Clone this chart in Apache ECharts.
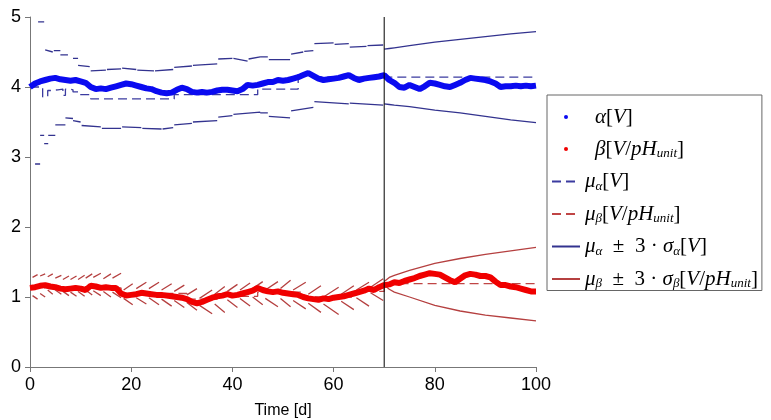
<!DOCTYPE html>
<html>
<head>
<meta charset="utf-8">
<script src="https://cdn.jsdelivr.net/npm/echarts@6/dist/echarts.min.js"></script>
<style>html,body{margin:0;padding:0;background:#fff}#c{width:771px;height:420px}</style>
</head>
<body>
<div id="c"></div>
<script>
// ---------- data ----------
const xTicks = [0, 20, 40, 60, 80, 100];
const yTicks = [0, 1, 2, 3, 4, 5];
const splitDay = 70;

const days = [0,1,2,3,4,5,6,7,8,9,10,11,12,13,14,15,16,17,18,19,20,21,22,23,24,25,26,27,28,29,30,31,32,33,34,35,36,37,38,39,40,41,42,43,44,45,46,47,48,49,50,51,52,53,54,55,56,57,58,59,60,61,62,63,64,65,66,67,68,69,70,71,72,73,74,75,76,77,78,79,80,81,82,83,84,85,86,87,88,89,90,91,92,93,94,95,96,97,98,99,100];

const alpha = [4.00,4.05,4.08,4.10,4.12,4.13,4.11,4.10,4.09,4.10,4.08,4.06,4.00,3.97,3.98,3.97,3.99,4.01,4.03,4.05,
  4.04,4.02,4.00,3.98,3.97,3.94,3.92,3.91,3.92,3.96,3.99,3.97,3.93,3.92,3.93,3.92,3.93,3.95,3.96,3.96,
  3.95,3.94,3.97,4.03,4.02,4.03,4.05,4.07,4.07,4.10,4.09,4.10,4.12,4.14,4.17,4.20,4.16,4.12,4.10,4.11,
  4.12,4.13,4.15,4.17,4.13,4.10,4.12,4.13,4.14,4.15,4.17,4.10,4.06,4.00,3.99,4.03,4.00,3.97,4.01,4.06,
  4.05,4.03,4.01,4.00,4.03,4.06,4.10,4.13,4.12,4.11,4.10,4.08,4.05,4.00,4.01,4.01,4.02,4.01,4.02,4.01,4.02];

const beta = [1.13,1.14,1.16,1.17,1.15,1.14,1.12,1.11,1.12,1.13,1.12,1.10,1.16,1.15,1.13,1.14,1.13,1.13,1.05,1.02,
  1.03,1.04,1.06,1.05,1.04,1.03,1.03,1.02,1.01,1.00,0.99,0.97,0.93,0.91,0.93,0.96,0.99,1.01,1.02,1.04,
  1.02,1.03,1.05,1.07,1.09,1.13,1.10,1.08,1.07,1.08,1.06,1.05,1.04,1.03,1.00,0.98,0.97,0.96,0.98,0.97,
  0.99,1.00,1.01,1.03,1.05,1.07,1.09,1.12,1.10,1.14,1.17,1.18,1.21,1.20,1.23,1.25,1.27,1.30,1.32,1.34,
  1.33,1.32,1.28,1.24,1.21,1.26,1.31,1.33,1.32,1.30,1.30,1.28,1.22,1.17,1.17,1.15,1.14,1.12,1.10,1.08,1.08];

// running mean estimates (step values)
const muAlphaX = [0, 2.5, 3.5, 4.2, 5.5, 6.5, 7.0, 8.0, 8.5, 9.5, 12, 28.5, 45, 53, 56, 70, 100];
const muAlphaY = [4.00,3.86,3.95,3.96,3.97,3.88,3.97,3.96,3.93,3.89,3.83,3.89,3.97,4.19,4.14,4.14,4.14];
const muBetaX = [0, 18, 31, 37, 45, 54, 64, 70, 100];
const muBetaY = [1.13,1.05,0.97,1.01,1.07,1.00,1.08,1.19,1.19];

// alpha +/- 3 sigma before the split: [x0, x1, y0, y1]
const alphaUpperSegs = [
  [1.6,2.8,4.93,4.93],[3.0,4.5,4.53,4.50],[4.7,6.0,4.52,4.52],[6.0,7.5,4.46,4.46],[8.5,9.5,4.41,4.41],
  [9.5,11.8,4.31,4.29],[12,15,4.23,4.24],[15.2,18,4.25,4.26],[18.2,21,4.27,4.25],[21.2,24.5,4.24,4.23],
  [24.7,28.3,4.23,4.25],[28.5,32,4.28,4.30],[32.2,37,4.31,4.33],[37.2,40,4.40,4.41],[40.2,43,4.41,4.37],
  [43.2,45.5,4.40,4.43],[45.5,47,4.43,4.43],[47.2,51.4,4.39,4.39],[51.6,54,4.47,4.50],[54.2,56,4.51,4.52],
  [56.2,60,4.62,4.63],[60.2,63,4.61,4.62],[63.2,66.5,4.57,4.58],[66.7,69.8,4.59,4.60]];
const alphaLowerSegs = [
  [1.0,2.0,2.90,2.90],[2.0,2.8,3.31,3.31],[2.8,3.6,3.19,3.19],[3.6,5.0,3.31,3.31],[5.0,7.0,3.46,3.46],
  [7.0,8.5,3.56,3.55],[8.5,10,3.52,3.50],[10.2,14,3.45,3.43],[14.2,18,3.41,3.41],[18.2,22,3.43,3.42],
  [22.2,26,3.41,3.40],[26.2,28.3,3.40,3.42],[28.5,32,3.46,3.48],[32.2,37,3.50,3.52],[37.2,40,3.57,3.59],
  [40.2,45.5,3.61,3.64],[45.5,47,3.63,3.63],[47.2,51.4,3.58,3.56],[51.6,56,3.66,3.71],[56.2,63,3.79,3.76],
  [63.2,69.8,3.77,3.74]];
// beta +/- 3 sigma before the split: [x0, x1, up0, up1, lo0, lo1]
const betaSegs = [
  [0.5,1.5,1.28,1.32,1.02,0.97],[2.0,3.0,1.30,1.33,1.05,1.00],[3.5,4.5,1.29,1.33,1.10,1.04],
  [5.0,6.2,1.27,1.31,1.10,1.04],[6.5,7.7,1.25,1.30,1.08,1.02],[8.0,9.2,1.25,1.30,1.07,1.01],
  [9.5,10.8,1.25,1.31,1.08,1.01],[11.0,12.3,1.27,1.33,1.10,1.03],[12.5,14.0,1.28,1.34,1.09,1.02],
  [14.5,16.0,1.26,1.33,1.08,1.00],[16.3,18.0,1.27,1.34,1.07,0.99],[18.5,20.3,1.10,1.19,0.98,0.89],
  [21,23,1.12,1.21,0.99,0.90],[23.5,25.5,1.12,1.21,0.99,0.89],[26,28,1.10,1.19,0.97,0.87],
  [28.5,30.5,1.08,1.17,0.95,0.85],[31,33,1.03,1.12,0.92,0.81],[33.5,36,0.98,1.10,0.88,0.76],
  [36.5,38.5,1.04,1.15,0.90,0.78],[39,41,1.08,1.18,0.96,0.85],[41.5,43.5,1.10,1.20,0.98,0.87],
  [44,46,1.12,1.22,1.00,0.89],[46.5,49,1.10,1.22,0.98,0.86],[49.5,51.5,1.12,1.24,0.98,0.86],
  [52,54.5,1.10,1.21,0.95,0.83],[55,57.5,1.04,1.16,0.91,0.78],[58,61,1.00,1.14,0.90,0.75],
  [61.5,64,1.04,1.16,0.94,0.82],[64.5,67,1.10,1.21,0.99,0.87],[67.3,69.8,1.14,1.26,1.06,0.95]];

// forecast bands after the split
const fcX = [70, 71, 72, 75, 80, 85, 90, 95, 100];
const alphaFcUpper = [4.54,4.55,4.56,4.59,4.64,4.68,4.72,4.76,4.79];
const alphaFcLower = [3.76,3.75,3.74,3.72,3.67,3.63,3.58,3.53,3.49];
const betaFcUpper  = [1.22,1.28,1.31,1.38,1.48,1.55,1.61,1.66,1.71];
const betaFcLower  = [1.17,1.11,1.07,1.00,0.88,0.80,0.74,0.70,0.66];

// ---------- build ----------
const BRK = '-';
function zip(xs, ys){ return xs.map((x,i)=>[x, ys[i]]); }
function segData(list, a, b){
  const out = [];
  list.forEach(s => { out.push([s[0], s[a]], [s[1], s[b]], [s[1], BRK]); });
  return out;
}
const bandA = [].concat(
  segData(alphaUpperSegs,2,3), zip(fcX, alphaFcUpper), [[100, BRK]],
  segData(alphaLowerSegs,2,3), zip(fcX, alphaFcLower));
const bandB = [].concat(
  segData(betaSegs,2,3), zip(fcX, betaFcUpper), [[100, BRK]],
  segData(betaSegs,4,5), zip(fcX, betaFcLower));

const names = {
  alpha: '{i|α}[{i|V}]',
  beta: '{i|β}[{i|V}/{i|pH}{s|unit}]',
  muA: '{i|μ}{s|α}[{i|V}]',
  muB: '{i|μ}{s|β}[{i|V}/{i|pH}{s|unit}]',
  bandA: '{i|μ}{s|α}{r|  ±  3 · }{i|σ}{s|α}[{i|V}]',
  bandB: '{i|μ}{s|β}{r|  ±  3 · }{i|σ}{s|β}[{i|V}/{i|pH}{s|unit}]'
};
const serif = 'Liberation Serif';
const FS = 21;

const chart = echarts.init(document.getElementById('c'), null, {renderer:'canvas'});
chart.setOption({
  animation: false,
  backgroundColor: '#fff',
  grid: {left: 30, right: 235, top: 17, bottom: 53, containLabel: false, outerBoundsMode: 'none'},
  xAxis: {
    type: 'value', min: xTicks[0], max: xTicks[xTicks.length-1], interval: 20,
    name: 'Time [d]', nameLocation: 'middle', nameGap: 36,
    nameTextStyle: {fontFamily: 'Liberation Sans', fontSize: 16, color: '#000'},
    axisLine: {show: true, onZero: false, lineStyle: {color: '#777', width: 1}},
    axisTick: {show: true, length: 5, lineStyle: {color: '#777'}},
    axisLabel: {fontFamily: 'Liberation Sans', fontSize: 18, color: '#000', margin: 9},
    splitLine: {show: false}
  },
  yAxis: {
    type: 'value', min: yTicks[0], max: yTicks[yTicks.length-1], interval: 1,
    axisLine: {show: true, lineStyle: {color: '#777', width: 1}},
    axisTick: {show: true, length: 5, lineStyle: {color: '#777'}},
    axisLabel: {fontFamily: 'Liberation Sans', fontSize: 18, color: '#000', margin: 9},
    splitLine: {show: false}
  },
  legend: {
    orient: 'vertical', left: 547, top: 95,
    padding: [11, 4, 0, 4], itemGap: 10, itemWidth: 28, itemHeight: 4,
    borderColor: '#666', borderWidth: 1, backgroundColor: '#fff',
    data: [
      {name: 'alpha', icon: 'circle', textStyle: {padding: [0,0,0,10]}},
      {name: 'beta', icon: 'circle', textStyle: {padding: [0,0,0,10]}},
      {name: 'muA', itemStyle: {opacity: 0}},
      {name: 'muB', itemStyle: {opacity: 0}},
      {name: 'bandA', itemStyle: {opacity: 0}},
      {name: 'bandB', itemStyle: {opacity: 0}}
    ],
    formatter: n => names[n],
    textStyle: {
      fontFamily: serif, fontSize: FS, color: '#000', lineHeight: 22,
      rich: {
        i: {fontFamily: serif, fontStyle: 'italic', fontSize: FS, color: '#000'},
        r: {fontFamily: serif, fontSize: FS, color: '#000'},
        s: {fontFamily: serif, fontStyle: 'italic', fontSize: 13, color: '#000', padding: [10,0,0,0]}
      }
    }
  },
  series: [
    {name: 'bandA', type: 'line', data: bandA, symbol: 'none', z: 2,
     lineStyle: {color: '#33338f', width: 1.3}, itemStyle: {color: '#33338f'}},
    {name: 'bandB', type: 'line', data: bandB, symbol: 'none', z: 2,
     lineStyle: {color: '#b54040', width: 1.3}, itemStyle: {color: '#b54040'}},
    {name: 'muA', type: 'line', data: zip(muAlphaX, muAlphaY), step: 'end', symbol: 'none', z: 3,
     lineStyle: {color: '#3b3ba0', width: 1.3, type: [9,5]}, itemStyle: {color: '#3b3ba0'}},
    {name: 'muB', type: 'line', data: zip(muBetaX, muBetaY), step: 'end', symbol: 'none', z: 3,
     lineStyle: {color: '#c04545', width: 1.3, type: [9,5]}, itemStyle: {color: '#c04545'}},
    {name: 'alpha', type: 'line', data: zip(days, alpha), symbol: 'none', z: 4,
     lineStyle: {color: '#0a0af0', width: 6}, itemStyle: {color: '#0a0af0'}},
    {name: 'beta', type: 'line', data: zip(days, beta), symbol: 'none', z: 4,
     lineStyle: {color: '#f00000', width: 6}, itemStyle: {color: '#f00000'}},
    {name: 'split', type: 'line', data: [[splitDay, yTicks[0]], [splitDay, yTicks[yTicks.length-1]]],
     symbol: 'none', z: 6, silent: true, lineStyle: {color: '#000', width: 1}}
  ]
});
</script>
</body>
</html>
